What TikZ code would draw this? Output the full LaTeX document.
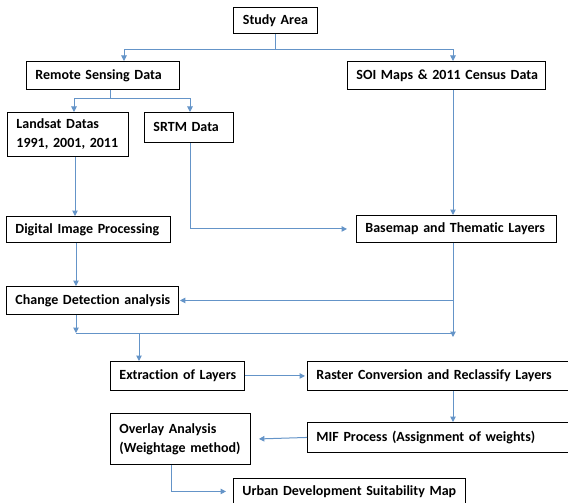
\documentclass[tikz,border=0pt]{standalone}
\usepackage{fontspec}
\setmainfont{Carlito}[Ligatures=NoCommon]
\usetikzlibrary{arrows.meta}
\definecolor{connc}{RGB}{100,148,200}
\begin{document}
\begin{tikzpicture}[x=1pt,y=-1pt,
 box/.style={draw=black, line width=0.9pt, anchor=north west, inner xsep=9pt, inner ysep=0pt, align=left, font=\fontsize{14}{19}\selectfont\bfseries},
 ln/.style={draw=connc, line width=1pt},
 arr/.style={ln, -{Triangle[length=5.5pt,width=5.5pt]}}]
\clip (0,0) rectangle (568,503);
\fill[white] (0,0) rectangle (568,503);
% boxes
\node[box, align=center, text width=66, minimum height=26] (study) at (233,7) {\mbox{Study Area}};
\node[box, text width=135, minimum height=28] (rs) at (26,61) {\mbox{Remote Sensing Data}};
\node[box, text width=180, minimum height=28] (soi) at (347,61) {\mbox{SOI Maps \& 2011 Census Data}};
\node[box, text width=103, minimum height=44] (land) at (7,112) {\mbox{Landsat Datas}\\\mbox{1991, 2001, 2011}};
\node[box, text width=71, minimum height=30] (srtm) at (144,112) {\mbox{SRTM Data}};
\node[box, text width=146, minimum height=26] (dip) at (6,216) {\mbox{Digital Image Processing}};
\node[box, text width=182, minimum height=27] (base) at (356,215) {\mbox{Basemap and Thematic Layers}};
\node[box, text width=154, minimum height=28] (cd) at (6,286) {\mbox{Change Detection analysis}};
\node[box, text width=116, minimum height=29] (ext) at (110,361) {\mbox{Extraction of Layers}};
\node[box, text width=251, minimum height=29] (ras) at (307,361) {\mbox{Raster Conversion and Reclassify Layers}};
\node[box, text width=122, minimum height=51] (ovl) at (110,413) {\mbox{Overlay Analysis}\\\mbox{(Weightage method)}};
\node[box, text width=251, minimum height=30] (mif) at (307,422) {\mbox{MIF Process (Assignment of weights)}};
\node[box, text width=214, minimum height=26] (urb) at (233,478) {\mbox{Urban Development Suitability Map}};
% junction coordinates
\coordinate (c1) at (124,50);
\coordinate (c2) at (453,50);
\coordinate (r0) at (110,99);
\coordinate (c3) at (74,99);
\coordinate (c4) at (190,99);
\coordinate (c5) at (75,0);
\coordinate (c6) at (76,0);
\coordinate (m1) at (76,333);
\coordinate (m2) at (453,337);
\coordinate (m3) at (453,333);
\coordinate (m4) at (139,333);
\coordinate (c7) at (171,0);
% connectors
\draw[arr] (study.south) |- (c1) -- (rs.north -| c1);
\draw[arr] (study.south) |- (c2) -- (soi.north -| c2);
\draw[arr] (rs.south -| r0) -- (r0) -| (land.north -| c3);
\draw[arr] (rs.south -| r0) -- (r0) -| (srtm.north -| c4);
\draw[arr] (land.south -| c5) -- (dip.north -| c5);
\draw[arr] (srtm.south -| c4) |- ([xshift=-9pt]base.west);
\draw[arr] (soi.south -| c2) -- (base.north -| c2);
\draw[arr] (dip.south -| c6) -- (cd.north -| c6);
\draw[arr] (base.south -| c2) |- ([xshift=1pt]cd.east);
\draw[arr] (base.south -| c2) -- (m2);
\draw[arr] (cd.south -| m1) -- (m1);
\draw[ln] (m1) -- (m3);
\draw[arr] (m4) -- (ext.north -| m4);
\draw[arr] (ext.east) -- ([xshift=-2pt]ras.west);
\draw[arr] (ras.south -| c2) -- (mif.north -| c2);
\draw[arr] (mif.west) -- ([xshift=8pt]ovl.east);
\draw[arr] (ovl.south -| c7) |- ([xshift=-7pt]urb.west);
\end{tikzpicture}
\end{document}
